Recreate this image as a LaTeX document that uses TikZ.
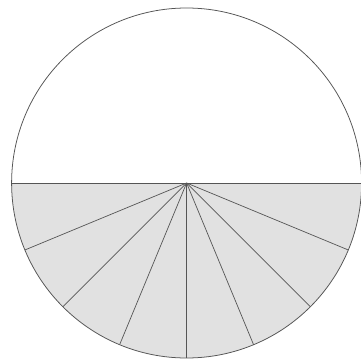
\documentclass[tikz,border=0pt]{standalone}
\usepackage{tikz}
\usetikzlibrary{calc}
\definecolor{rimgray}{RGB}{85, 85, 85}
\definecolor{halfgray}{RGB}{225, 225, 225}

\begin{document}
\begin{tikzpicture}[
    rim/.style={draw=rimgray, line width=1.1pt},
    spoke/.style={draw=rimgray, line width=1pt}]

    \useasboundingbox (0,0) rectangle (18.05,18);

    \coordinate (O) at (9.33, 8.85);

    % lower half shaded
    \fill[halfgray] (O) ++(180:8.75) arc[start angle=180, end angle=360, radius=8.75] -- cycle;

    \draw[rim] (O) circle[radius=8.75];
    \coordinate (W) at ($(O)+(180:8.75)$);
    \coordinate (E) at ($(O)+(0:8.75)$);
    \draw[spoke] (W) -- (E);

    \foreach \a in {202.5,225,247.5,270,292.5,315,337.5}
        \draw[spoke] (O) -- ++(\a:8.75);

\end{tikzpicture}
\end{document}
